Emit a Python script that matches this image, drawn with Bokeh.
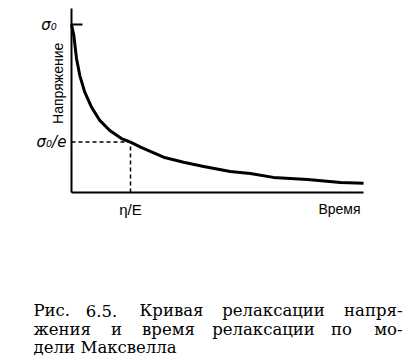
import math
from bokeh.plotting import figure
from bokeh.models import Range1d, Label
from bokeh.embed import file_html
from bokeh.resources import INLINE

# ---- data ----
time = [0.0, 0.039, 0.085, 0.141, 0.225, 0.339, 0.48, 0.649, 0.847, 1.00,
        1.17, 1.56, 1.90, 2.24, 2.69, 3.03, 3.42, 4.00, 4.56, 4.95]
stress = [1.00, 0.935, 0.798, 0.696, 0.597, 0.508, 0.429, 0.369, 0.321, 0.30,
          0.27, 0.21, 0.18, 0.155, 0.125, 0.113, 0.09, 0.077, 0.06, 0.055]
sigma0 = 1.0
sigma_e = 0.30
tau = 1.0
t_max = 4.95
s_top = 1.095

y_tick_labels = ["σ₀", "σ₀/e"]
x_tick_label = "η/E"
x_title = "Время"
y_title = "Напряжение"
caption_lines = [
    ["Рис.", "6.5.", "Кривая", "релаксации", "напря-"],
    ["жения", "и", "время", "релаксации", "по", "мо-"],
    ["дели", "Максвелла"],
]

# ---- layout / style (page px) ----
W, H = 410, 356
ORIGIN_X, ORIGIN_Y = 71, 192      # page px of (t=0, sigma=0)
PX_T, PX_S = 59.0, 168.0          # px per data unit
TICK_LEN = 11 / PX_T
caption_layout = [
    [("left", 33), ("center", 101), ("center", 171), ("center", 273), ("right", 402)],
    [("left", 33), ("center", 116), ("center", 168), ("center", 263), ("center", 341), ("right", 402)],
    [("left", 33), ("left", 80)],
]
caption_baselines = [310, 328.5, 346.5]

x_range = Range1d(-ORIGIN_X / PX_T, (W - ORIGIN_X) / PX_T)
y_range = Range1d(-(H - ORIGIN_Y) / PX_S, ORIGIN_Y / PX_S)

p = figure(width=W, height=H, x_range=x_range, y_range=y_range,
           output_backend="svg", toolbar_location=None,
           x_axis_location=None, y_axis_location=None,
           min_border=0)
p.outline_line_color = None
p.grid.visible = False
p.background_fill_color = "white"
p.border_fill_color = "white"

# axes
p.line([0, t_max], [0, 0], line_width=2, line_color="black")
p.line([0, 0], [0, s_top], line_width=2, line_color="black")
p.line([0, TICK_LEN], [sigma0, sigma0], line_width=2, line_color="black")

# curve
p.line(time, stress, line_width=3, line_color="black", line_join="round")
# dashed guides
p.line([0, tau], [sigma_e, sigma_e], line_width=1.5, line_color="black", line_dash="4 3")
p.line([tau, tau], [0, sigma_e], line_width=1.5, line_color="black", line_dash="4 3")

# tick labels
p.add_layout(Label(x=0, y=sigma0, x_offset=-22.5, text=y_tick_labels[0],
                   text_align="center", text_baseline="middle",
                   text_font="DejaVu Sans", text_font_style="italic",
                   text_font_size="15px", text_color="black"))
p.add_layout(Label(x=0, y=sigma_e, x_offset=-20, text=y_tick_labels[1],
                   text_align="center", text_baseline="middle",
                   text_font="DejaVu Sans", text_font_style="italic",
                   text_font_size="15px", text_color="black"))
p.add_layout(Label(x=tau, y=0, y_offset=-8, text=x_tick_label,
                   text_align="center", text_baseline="top",
                   text_font="Liberation Sans", text_font_size="15px",
                   text_color="black"))
p.add_layout(Label(x=t_max, y=0, x_offset=-3, y_offset=-8, text=x_title,
                   text_align="right", text_baseline="top",
                   text_font="Liberation Sans", text_font_size="14px",
                   text_color="black"))
p.add_layout(Label(x=0, y=0.65, x_offset=-14, text=y_title, angle=math.pi / 2,
                   text_align="center", text_baseline="middle",
                   text_font="Liberation Sans", text_font_size="14px",
                   text_color="black"))

# caption
for words, lay, base in zip(caption_lines, caption_layout, caption_baselines):
    for w, (al, px) in zip(words, lay):
        p.add_layout(Label(x=px, y=H - base,
                           x_units="screen", y_units="screen", text=w,
                           text_align=al, text_baseline="alphabetic",
                           text_font="DejaVu Serif", text_font_size="16.5px",
                           text_color="black"))

open("out.html", "w").write(file_html(p, INLINE))
